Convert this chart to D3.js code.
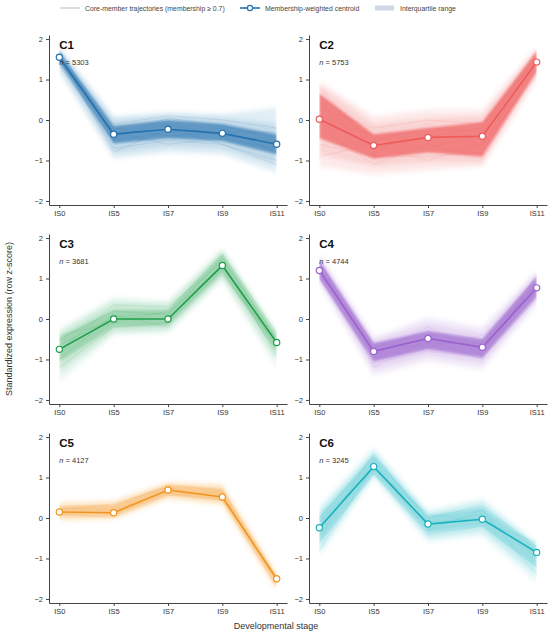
<!doctype html>
<html>
<head>
<meta charset="UTF-8">
<title>Cluster trajectories</title>
<script src="https://d3js.org/d3.v7.min.js"></script>
<style>
  body { margin: 0; background: #fff; }
  text { font-family: "Liberation Sans", Arial, sans-serif; }
</style>
</head>
<body>
<script>
// ---- data ----
var stages = ["IS0", "IS5", "IS7", "IS9", "IS11"];
var clusters = ["C1", "C2", "C3", "C4", "C5", "C6"];
var sizes = [5303, 5753, 3681, 4744, 4127, 3245];
var yTicks = [-2, -1, 0, 1, 2];

// membership-weighted centroids
var centroids = [
  [1.55, -0.35, -0.23, -0.33, -0.60],
  [0.02, -0.63, -0.43, -0.40, 1.43],
  [-0.75, 0.00, 0.00, 1.32, -0.58],
  [1.20, -0.80, -0.48, -0.70, 0.77],
  [0.15, 0.13, 0.69, 0.52, -1.50],
  [-0.24, 1.27, -0.15, -0.03, -0.85]
];

// interquartile range (25th / 75th percentile)
var q25 = [
  [1.42, -0.58, -0.45, -0.52, -0.85],
  [-0.45, -0.95, -0.80, -0.90, 1.20],
  [-1.05, -0.20, -0.15, 1.15, -0.80],
  [1.00, -1.05, -0.75, -0.95, 0.55],
  [0.05, 0.05, 0.57, 0.42, -1.68],
  [-0.60, 1.10, -0.35, -0.20, -1.20]
];
var q75 = [
  [1.68, -0.15, 0.00, -0.10, -0.35],
  [0.65, -0.35, -0.20, -0.05, 1.70],
  [-0.45, 0.22, 0.22, 1.60, -0.40],
  [1.45, -0.60, -0.30, -0.50, 1.05],
  [0.28, 0.32, 0.82, 0.72, -1.45],
  [0.05, 1.55, 0.05, 0.25, -0.70]
];

// 10th / 90th percentile of the core members
var p10 = [
  [1.30, -0.80, -0.65, -0.70, -1.10],
  [-0.85, -1.15, -1.05, -1.05, 1.10],
  [-1.30, -0.30, -0.25, 1.05, -1.00],
  [0.95, -1.25, -0.90, -1.10, 0.45],
  [-0.02, 0.00, 0.50, 0.35, -1.75],
  [-0.80, 1.05, -0.50, -0.32, -1.40]
];
var p90 = [
  [1.75, 0.00, 0.10, 0.05, -0.10],
  [0.85, -0.10, 0.05, 0.10, 1.75],
  [-0.35, 0.40, 0.35, 1.68, -0.35],
  [1.52, -0.52, -0.12, -0.35, 1.12],
  [0.35, 0.40, 0.86, 0.80, -1.40],
  [0.18, 1.65, 0.12, 0.38, -0.65]
];

// outer envelope of the core members
var lo = [
  [1.20, -0.95, -0.80, -0.85, -1.30],
  [-1.15, -1.35, -1.25, -1.15, 1.00],
  [-1.55, -0.40, -0.35, 0.95, -1.20],
  [0.90, -1.40, -1.05, -1.25, 0.35],
  [-0.10, -0.05, 0.45, 0.30, -1.80],
  [-0.95, 1.00, -0.60, -0.45, -1.60]
];
var hi = [
  [1.80, 0.10, 0.20, 0.15, 0.30],
  [0.95, 0.10, 0.25, 0.25, 1.80],
  [-0.25, 0.55, 0.45, 1.75, -0.30],
  [1.60, -0.45, 0.05, -0.20, 1.20],
  [0.40, 0.45, 0.90, 0.85, -1.35],
  [0.30, 1.75, 0.20, 0.50, -0.60]
];

// a few individual core-member trajectories per cluster
var members = [
  [[1.50, -0.70, -0.50, -0.60, -1.00], [1.60, -0.10, 0.10, 0.00, -0.20], [1.70, -0.40, -0.10, -0.40, -0.50],
   [1.35, -0.50, -0.30, -0.20, -0.80], [1.55, -0.20, -0.40, -0.30, -0.30], [1.65, -0.80, -0.20, -0.60, -1.10],
   [1.45, -0.30, -0.60, -0.45, -0.70], [1.75, -0.45, 0.05, -0.15, -0.45]],
  [[0.60, -0.50, -0.20, -0.30, 1.60], [-0.60, -0.90, -0.90, -0.80, 1.30], [0.30, -0.20, 0.00, -0.10, 1.50],
   [-0.20, -1.10, -0.60, -0.95, 1.20], [0.80, -0.70, -0.40, -0.20, 1.70], [-0.90, -0.60, -1.00, -0.60, 1.10],
   [0.45, -0.85, -0.10, -0.65, 1.55], [0.10, -0.40, -0.70, -0.35, 1.40]],
  [[-0.50, 0.20, 0.10, 1.50, -0.50], [-1.20, -0.20, -0.10, 1.20, -0.80], [-0.80, 0.35, 0.30, 1.40, -0.90],
   [-0.40, -0.10, 0.20, 1.60, -0.35], [-1.00, 0.10, -0.20, 1.10, -0.60], [-0.65, 0.05, 0.15, 1.30, -0.70]],
  [[1.40, -0.70, -0.30, -0.50, 1.00], [1.05, -1.10, -0.80, -0.95, 0.50], [1.30, -0.90, -0.20, -0.80, 0.90],
   [1.10, -0.60, -0.70, -0.40, 0.70], [1.50, -1.20, -0.50, -1.00, 1.10], [1.25, -0.80, -0.60, -0.60, 0.85]],
  [[0.30, 0.30, 0.80, 0.70, -1.45], [0.00, 0.05, 0.60, 0.45, -1.70], [0.20, 0.35, 0.75, 0.50, -1.55],
   [0.10, 0.00, 0.55, 0.65, -1.60], [0.25, 0.20, 0.65, 0.55, -1.50]],
  [[0.00, 1.50, 0.00, 0.30, -0.70], [-0.60, 1.10, -0.40, -0.20, -1.20], [-0.30, 1.40, -0.20, 0.10, -1.00],
   [-0.10, 1.20, 0.10, -0.10, -0.60], [-0.80, 1.30, -0.30, 0.20, -1.40], [-0.45, 1.60, -0.10, 0.00, -0.90]]
];

var colors = ["#2471ad", "#ef5a5a", "#1f9e4b", "#9a62cc", "#f29422", "#19b0be"];
var coreOpacity = [0.62, 0.68, 0.26, 0.66, 0.32, 0.26];
var outerOpacity = [0.12, 0.12, 0.09, 0.12, 0.1, 0.09];

// ---- layout ----
var W = 550, H = 633;
var colX = [49, 309], colW = 238;
var rowY = [35, 234, 433], rowH = 170;

var svg = d3.select("body").append("svg")
  .attr("width", W).attr("height", H);

svg.append("rect").attr("width", W).attr("height", H).attr("fill", "white");

var defs = svg.append("defs");
defs.append("filter").attr("id", "soft").attr("x", "-5%").attr("y", "-20%")
  .attr("width", "110%").attr("height", "140%")
  .append("feGaussianBlur").attr("stdDeviation", 2.2);
defs.append("filter").attr("id", "softer").attr("x", "-5%").attr("y", "-20%")
  .attr("width", "110%").attr("height", "140%")
  .append("feGaussianBlur").attr("stdDeviation", 1);

clusters.forEach(function (name, i) {
  var x0 = colX[i % 2], y0 = rowY[Math.floor(i / 2)];
  var g = svg.append("g");

  var x = d3.scalePoint().domain(stages).range([x0, x0 + colW]).padding(0.19);
  var y = d3.scaleLinear().domain([-2.1, 2.1]).range([y0 + rowH, y0]);

  // clip the soft bands to the first and last stage
  var cid = "clip" + i;
  defs.append("clipPath").attr("id", cid).append("rect")
    .attr("x", x(stages[0])).attr("y", y0 - 10)
    .attr("width", x(stages[4]) - x(stages[0])).attr("height", rowH + 10);

  var band = function (a, b) {
    return d3.area()
      .x(function (d, k) { return x(stages[k]); })
      .y0(function (d, k) { return y(a[k]); })
      .y1(function (d, k) { return y(b[k]); })(stages);
  };
  var line = d3.line()
    .x(function (d, k) { return x(stages[k]); })
    .y(function (d) { return y(d); });

  var bg = g.append("g").attr("clip-path", "url(#" + cid + ")");
  bg.append("path").attr("d", band(lo[i], hi[i]))
    .attr("fill", colors[i]).attr("fill-opacity", outerOpacity[i]).attr("filter", "url(#soft)");
  bg.append("path").attr("d", band(p10[i], p90[i]))
    .attr("fill", colors[i]).attr("fill-opacity", 0.16).attr("filter", "url(#soft)");
  bg.append("path").attr("d", band(q25[i], q75[i]))
    .attr("fill", colors[i]).attr("fill-opacity", coreOpacity[i]).attr("filter", "url(#softer)");

  g.selectAll("path.member").data(members[i]).enter().append("path")
    .attr("class", "member")
    .attr("d", line)
    .attr("fill", "none")
    .attr("stroke", colors[i])
    .attr("stroke-opacity", 0.2)
    .attr("stroke-width", 0.6);

  g.append("path").attr("d", line(centroids[i]))
    .attr("fill", "none").attr("stroke", colors[i]).attr("stroke-width", 1.6);

  g.selectAll("circle").data(centroids[i]).enter().append("circle")
    .attr("cx", function (d, k) { return x(stages[k]); })
    .attr("cy", function (d) { return y(d); })
    .attr("r", 3.1)
    .attr("fill", "white")
    .attr("stroke", colors[i])
    .attr("stroke-width", 1.2);

  // axes
  var ya = g.append("g").attr("transform", "translate(" + x0 + ",0)")
    .call(d3.axisLeft(y).tickValues(yTicks).tickSize(3).tickSizeOuter(0)
      .tickFormat(function (d) { return d < 0 ? "\u2212" + Math.abs(d) : d; }));
  var xa = g.append("g").attr("transform", "translate(0," + (y0 + rowH) + ")")
    .call(d3.axisBottom(x).tickSize(3).tickSizeOuter(0));
  [ya, xa].forEach(function (a) {
    a.select(".domain").attr("stroke", "#444");
    a.selectAll(".tick line").attr("stroke", "#444");
    a.selectAll(".tick text").attr("fill", "#333").style("font-size", "7.5px")
      .style("font-family", "'Liberation Sans', Arial, sans-serif");
  });

  // panel labels
  g.append("text").attr("x", x(stages[0])).attr("y", y0 + 14)
    .attr("font-size", 11.5).attr("font-weight", "bold").attr("fill", "#111")
    .text(name);
  var nt = g.append("text").attr("x", x(stages[0])).attr("y", y0 + 30)
    .attr("font-size", 7.5).attr("fill", "#333");
  nt.append("tspan").attr("font-style", "italic").text("n");
  nt.append("tspan").text(" = " + sizes[i]);
});

// axis titles
svg.append("text")
  .attr("transform", "translate(12," + 319 + ") rotate(-90)")
  .attr("text-anchor", "middle").attr("font-size", 9).attr("fill", "#333")
  .text("Standardized expression (row z-score)");
svg.append("text")
  .attr("x", 276).attr("y", 629)
  .attr("text-anchor", "middle").attr("font-size", 9).attr("fill", "#333")
  .text("Developmental stage");

// legend
var lg = svg.append("g").attr("font-size", 6.9).attr("fill", "#444");
lg.append("line").attr("x1", 60).attr("x2", 80).attr("y1", 8).attr("y2", 8)
  .attr("stroke", "#bbb").attr("stroke-width", 1);
lg.append("text").attr("x", 85).attr("y", 10.5).text("Core-member trajectories (membership \u2265 0.7)");
lg.append("line").attr("x1", 240).attr("x2", 260).attr("y1", 8).attr("y2", 8)
  .attr("stroke", "#2471ad").attr("stroke-width", 1.6);
lg.append("circle").attr("cx", 250).attr("cy", 8).attr("r", 2.6)
  .attr("fill", "white").attr("stroke", "#2471ad").attr("stroke-width", 1.2);
lg.append("text").attr("x", 265).attr("y", 10.5).text("Membership-weighted centroid");
lg.append("rect").attr("x", 375).attr("y", 5.5).attr("width", 19).attr("height", 5)
  .attr("fill", "#cfd8e3");
lg.append("text").attr("x", 400).attr("y", 10.5).text("Interquartile range");
</script>
</body>
</html>
